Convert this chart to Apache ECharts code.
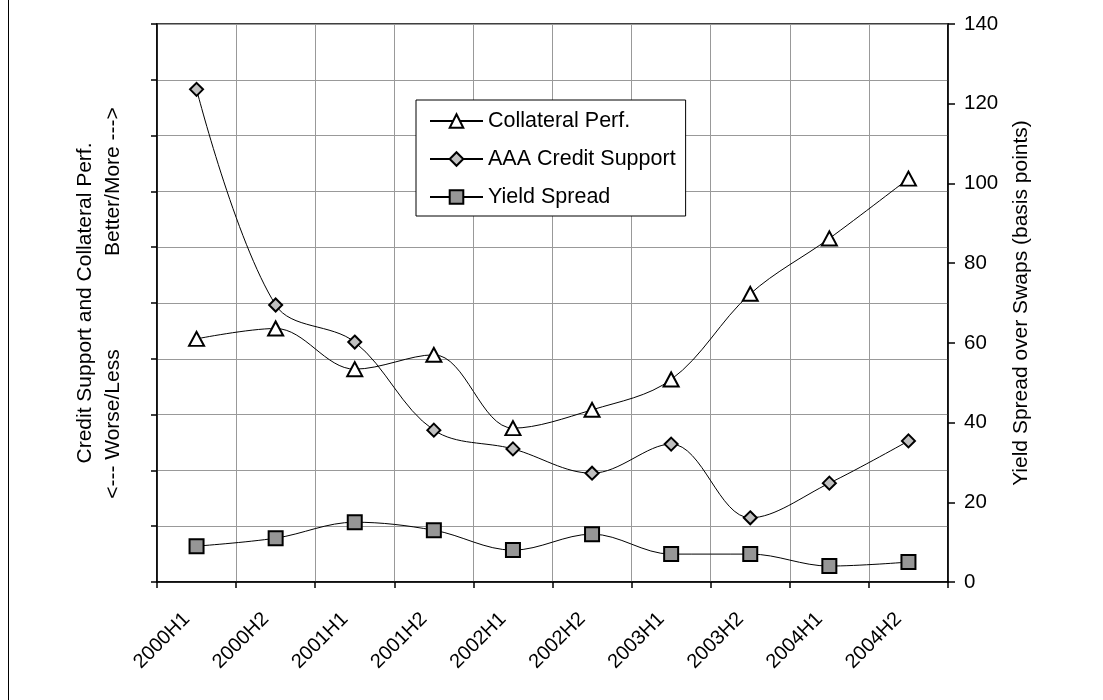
<!DOCTYPE html>
<html>
<head>
<meta charset="utf-8">
<script src="https://cdn.jsdelivr.net/npm/echarts@6/dist/echarts.min.js"></script>
<style>
  html, body { margin: 0; padding: 0; background: #fff; }
  #chart { width: 1103px; height: 700px; }
</style>
</head>
<body>
<div id="chart"></div>
<script>
// Half-year periods on the category axis
const periods = ['2000H1', '2000H2', '2001H1', '2001H2', '2002H1', '2002H2', '2003H1', '2003H2', '2004H1', '2004H2'];

// Collateral performance and AAA credit support (relative scale, left axis)
const collateralPerf = [61.0, 63.6, 53.4, 57.0, 38.6, 43.2, 50.8, 72.3, 86.2, 101.2];
const aaaCreditSupport = [123.6, 69.5, 60.2, 38.1, 33.4, 27.3, 34.6, 16.1, 24.8, 35.4];

// Yield spread over swaps in basis points (right axis)
const yieldSpread = [9, 11, 15, 13, 8, 12, 7, 7, 4, 5];

// Right axis tick values
const spreadTicks = [0, 20, 40, 60, 80, 100, 120, 140];

const FONT = '"Liberation Sans", Arial, sans-serif';

const chart = echarts.init(document.getElementById('chart'), null, { renderer: 'canvas' });

const lineStyle = { color: '#000', width: 1 };
const axisLineStyle = { color: '#000', width: 1.5 };

chart.setOption({
  animation: false,
  backgroundColor: '#fff',
  grid: {
    left: 157, right: 155, top: 24, bottom: 118,
    show: true, borderColor: '#000', borderWidth: 1.5, backgroundColor: 'transparent'
  },
  legend: {
    orient: 'vertical',
    left: 416, top: 100,
    padding: [10, 10, 8, 13],
    itemWidth: 53, itemHeight: 17, itemGap: 16,
    backgroundColor: '#fff',
    borderColor: '#000', borderWidth: 1, borderRadius: 0,
    textStyle: { fontFamily: FONT, fontSize: 21.5, color: '#000' },
    data: ['Collateral Perf.', 'AAA Credit Support', 'Yield Spread']
  },
  xAxis: {
    type: 'category',
    data: periods,
    boundaryGap: true,
    axisLine: { show: true, lineStyle: axisLineStyle },
    axisTick: { show: true, interval: 0, length: 6, lineStyle: axisLineStyle },
    splitLine: { show: true, interval: 0, lineStyle: { color: '#999', width: 1 } },
    axisLabel: {
      interval: 0, rotate: 45, margin: 24,
      padding: [0, 14, 0, 0],
      fontFamily: FONT, fontSize: 20, color: '#000'
    }
  },
  yAxis: [
    {
      type: 'value', position: 'left',
      min: 0, max: 140, interval: 14,
      axisLine: { show: true, lineStyle: axisLineStyle },
      axisTick: { show: true, length: 6, lineStyle: axisLineStyle },
      axisLabel: { show: false },
      splitLine: { show: true, lineStyle: { color: '#999', width: 1 } }
    },
    {
      type: 'value', position: 'right',
      min: spreadTicks[0], max: spreadTicks[spreadTicks.length - 1], interval: 20,
      axisLine: { show: true, lineStyle: axisLineStyle },
      axisTick: { show: true, length: 7, lineStyle: axisLineStyle },
      axisLabel: { margin: 16, fontFamily: FONT, fontSize: 20.5, color: '#000' },
      splitLine: { show: false }
    }
  ],
  series: [
    {
      name: 'Collateral Perf.', type: 'line', yAxisIndex: 0,
      data: collateralPerf, smooth: 0.35,
      symbol: 'triangle', symbolSize: [15, 14],
      lineStyle: lineStyle,
      itemStyle: { color: '#fff', borderColor: '#000', borderWidth: 2 },
      z: 3
    },
    {
      name: 'AAA Credit Support', type: 'line', yAxisIndex: 0,
      data: aaaCreditSupport, smooth: 0.35,
      symbol: 'diamond', symbolSize: 13,
      lineStyle: lineStyle,
      itemStyle: { color: '#c0c0c0', borderColor: '#000', borderWidth: 2 },
      z: 3
    },
    {
      name: 'Yield Spread', type: 'line', yAxisIndex: 1,
      data: yieldSpread, smooth: 0.35,
      symbol: 'rect', symbolSize: 14,
      lineStyle: lineStyle,
      itemStyle: { color: '#969696', borderColor: '#000', borderWidth: 2 },
      z: 3
    }
  ],
  graphic: [
    // chart frame edge
    {
      type: 'line', silent: true,
      shape: { x1: 8.5, y1: 0, x2: 8.5, y2: 700 },
      style: { stroke: '#000', lineWidth: 1 }
    },
    // left axis title, two lines
    {
      type: 'text', x: 85, y: 303, rotation: Math.PI / 2, silent: true,
      style: {
        text: 'Credit Support and Collateral Perf.',
        fontFamily: FONT, fontSize: 21, fill: '#000',
        align: 'center', verticalAlign: 'middle',
        textAlign: 'center', textVerticalAlign: 'middle'
      }
    },
    {
      type: 'text', x: 113, y: 303, rotation: Math.PI / 2, silent: true,
      style: {
        text: '<--- Worse/Less                Better/More --->',
        fontFamily: FONT, fontSize: 21, fill: '#000',
        align: 'center', verticalAlign: 'middle',
        textAlign: 'center', textVerticalAlign: 'middle'
      }
    },
    // right axis title
    {
      type: 'text', x: 1021, y: 303, rotation: Math.PI / 2, silent: true,
      style: {
        text: 'Yield Spread over Swaps (basis points)',
        fontFamily: FONT, fontSize: 21, fill: '#000',
        align: 'center', verticalAlign: 'middle',
        textAlign: 'center', textVerticalAlign: 'middle'
      }
    }
  ]
});
</script>
</body>
</html>
